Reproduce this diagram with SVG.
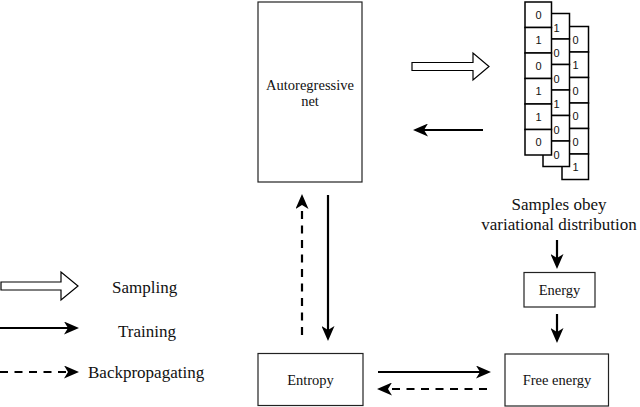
<svg xmlns="http://www.w3.org/2000/svg" width="640" height="407" viewBox="0 0 640 407">
<style>
.box{fill:#fff;stroke:#222;stroke-width:1.2}
.cell{fill:#fff;stroke:#000;stroke-width:1.5}
.lbl{font-family:"Liberation Serif","Times New Roman",serif;font-size:14.5px;fill:#111;text-anchor:middle}
.big{font-family:"Liberation Serif","Times New Roman",serif;font-size:17px;fill:#111}
.dig{font-family:"Liberation Sans",Arial,sans-serif;font-size:11px;fill:#111;text-anchor:middle}
.ln{stroke:#000;stroke-width:2.2;fill:none}
.dash{stroke-dasharray:8 6.5}
.hollow{fill:#fff;stroke:#000;stroke-width:1.2;stroke-linejoin:miter}
</style>
<defs>
<marker id="ah" markerUnits="userSpaceOnUse" markerWidth="15" markerHeight="13" refX="8" refY="6.5" orient="auto" viewBox="0 0 15 13">
<path d="M0,0 L15,6.5 L0,13 L4,6.5 z" fill="#000"/>
</marker>
</defs>

<g id="autoregressive">
<rect class="box" x="258" y="2" width="104" height="180"/>
<text class="lbl" x="310" y="89.5">Autoregressive</text>
<text class="lbl" x="310" y="106">net</text>
</g>

<g id="samples">
<g id="col3">
<rect class="cell" x="562" y="26.5" width="26.5" height="25.5"/>
<rect class="cell" x="562" y="52" width="26.5" height="25.5"/>
<rect class="cell" x="562" y="77.5" width="26.5" height="25.5"/>
<rect class="cell" x="562" y="103" width="26.5" height="25.5"/>
<rect class="cell" x="562" y="128.5" width="26.5" height="25.5"/>
<rect class="cell" x="562" y="154" width="26.5" height="25.5"/>
<text class="dig" x="575.5" y="43.5">0</text>
<text class="dig" x="575.5" y="69">1</text>
<text class="dig" x="575.5" y="94.5">0</text>
<text class="dig" x="575.5" y="120">0</text>
<text class="dig" x="575.5" y="145.5">0</text>
<text class="dig" x="575.5" y="171">1</text>
</g>
<g id="col2">
<rect class="cell" x="543" y="13.5" width="26.5" height="25.5"/>
<rect class="cell" x="543" y="39" width="26.5" height="25.5"/>
<rect class="cell" x="543" y="64.5" width="26.5" height="25.5"/>
<rect class="cell" x="543" y="90" width="26.5" height="25.5"/>
<rect class="cell" x="543" y="115.5" width="26.5" height="25.5"/>
<rect class="cell" x="543" y="141" width="26.5" height="25.5"/>
<text class="dig" x="556.5" y="31.5">1</text>
<text class="dig" x="556.5" y="57">0</text>
<text class="dig" x="556.5" y="82.5">0</text>
<text class="dig" x="556.5" y="108">1</text>
<text class="dig" x="556.5" y="133.5">0</text>
<text class="dig" x="556.5" y="159">0</text>
</g>
<g id="col1">
<rect class="cell" x="525" y="2" width="26.5" height="25.5"/>
<rect class="cell" x="525" y="27.5" width="26.5" height="25.5"/>
<rect class="cell" x="525" y="53" width="26.5" height="25.5"/>
<rect class="cell" x="525" y="78.5" width="26.5" height="25.5"/>
<rect class="cell" x="525" y="104" width="26.5" height="25.5"/>
<rect class="cell" x="525" y="129.5" width="26.5" height="25.5"/>
<text class="dig" x="538.5" y="18.8">0</text>
<text class="dig" x="538.5" y="44.3">1</text>
<text class="dig" x="538.5" y="69.8">0</text>
<text class="dig" x="538.5" y="95.3">1</text>
<text class="dig" x="538.5" y="120.8">1</text>
<text class="dig" x="538.5" y="146.3">0</text>
</g>
<text class="big" x="559" y="210" text-anchor="middle">Samples obey</text>
<text class="big" x="559" y="230" text-anchor="middle">variational distribution</text>
</g>

<g id="energy">
<rect class="box" x="524" y="272.5" width="71" height="34.5"/>
<text class="lbl" x="559.5" y="295">Energy</text>
</g>

<g id="free-energy">
<rect class="box" x="505" y="354" width="103.5" height="52"/>
<text class="lbl" x="557" y="385">Free energy</text>
</g>

<g id="entropy">
<rect class="box" x="258" y="353.5" width="105" height="52"/>
<text class="lbl" x="310.5" y="385">Entropy</text>
</g>

<g id="connectors">
<polygon class="hollow" points="412,62.5 473,62.5 473,53 489,66.5 473,80 473,70.5 412,70.5"/>
<line class="ln" x1="483" y1="130" x2="420" y2="130" marker-end="url(#ah)"/>
<line class="ln" x1="328" y1="195" x2="328" y2="334" marker-end="url(#ah)"/>
<line class="ln dash" x1="302" y1="335" x2="302" y2="201" marker-end="url(#ah)"/>
<line class="ln" x1="557" y1="240" x2="557" y2="262" marker-end="url(#ah)"/>
<line class="ln" x1="557" y1="314" x2="557" y2="336" marker-end="url(#ah)"/>
<line class="ln" x1="378" y1="372" x2="484" y2="372" marker-end="url(#ah)"/>
<line class="ln dash" x1="487" y1="389" x2="384" y2="389" marker-end="url(#ah)"/>
</g>

<g id="legend">
<polygon class="hollow" points="1,282 61,282 61,272 78,286 61,300 61,290 1,290"/>
<text class="big" x="112" y="293">Sampling</text>
<line class="ln" x1="0" y1="328" x2="72" y2="328" marker-end="url(#ah)"/>
<text class="big" x="118" y="337">Training</text>
<line class="ln dash" x1="0" y1="372" x2="72" y2="372" marker-end="url(#ah)"/>
<text class="big" x="88" y="378">Backpropagating</text>
</g>
</svg>
